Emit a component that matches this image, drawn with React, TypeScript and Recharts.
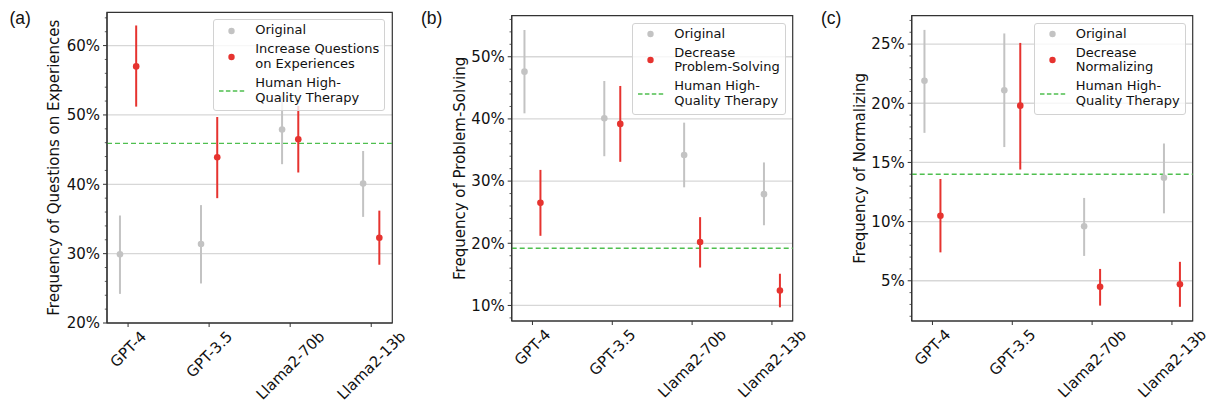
import {
  ComposedChart,
  Scatter,
  ErrorBar,
  XAxis,
  YAxis,
  CartesianGrid,
  ReferenceLine,
  ReferenceArea,
  Label,
} from 'recharts';

const FONT = '"DejaVu Sans", sans-serif';
const GRAY = '#c3c3c3';
const RED = '#e6332f';
const GREEN = '#4fbf4f';
const AXIS = '#333';
const GRID = '#d7d7d7';

const MODELS = ['GPT-4', 'GPT-3.5', 'Llama2-70b', 'Llama2-13b'];
const X_TICKS = [0, 1, 2, 3];

// (a) questions on experiences
const A_ORIG = [29.9, 31.4, 47.9, 40.1];
const A_ORIG_LO = [24.2, 25.7, 42.9, 35.3];
const A_ORIG_HI = [35.5, 37.0, 52.9, 44.8];
const A_MOD = [57.0, 43.9, 46.5, 32.3];
const A_MOD_LO = [51.2, 38.0, 41.7, 28.4];
const A_MOD_HI = [62.9, 49.7, 51.3, 36.2];
const A_HUMAN = 45.9;
const A_MAJOR = [20, 30, 40, 50, 60];
const A_MINOR = [22, 24, 26, 28, 32, 34, 36, 38, 42, 44, 46, 48, 52, 54, 56, 58, 62, 64];

// (b) problem-solving
const B_ORIG = [47.6, 40.1, 34.2, 27.9];
const B_ORIG_LO = [40.9, 34.0, 29.0, 22.9];
const B_ORIG_HI = [54.3, 46.1, 39.4, 33.0];
const B_MOD = [26.5, 39.2, 20.2, 12.4];
const B_MOD_LO = [21.2, 33.1, 16.1, 9.7];
const B_MOD_HI = [31.8, 45.3, 24.2, 15.1];
const B_HUMAN = 19.2;
const B_MAJOR = [10, 20, 30, 40, 50];
const B_MINOR = [8, 12, 14, 16, 18, 22, 24, 26, 28, 32, 34, 36, 38, 42, 44, 46, 48, 52, 54, 56];

// (c) normalizing
const C_ORIG = [21.9, 21.1, 9.6, 13.7];
const C_ORIG_LO = [17.5, 16.3, 7.1, 10.7];
const C_ORIG_HI = [26.2, 25.9, 12.0, 16.6];
const C_MOD = [10.5, 19.8, 4.5, 4.7];
const C_MOD_LO = [7.4, 14.4, 2.9, 2.8];
const C_MOD_HI = [13.6, 25.1, 6.0, 6.6];
const C_HUMAN = 14.0;
const C_MAJOR = [5, 10, 15, 20, 25];
const C_MINOR = [2, 3, 4, 6, 7, 8, 9, 11, 12, 13, 14, 16, 17, 18, 19, 21, 22, 23, 24, 26, 27];

const X_DOMAIN: [number, number] = [-0.26, 3.26];
const W = 412; // a bit wider than the 400px slot so the last rotated label is not clipped
const H = 407;
const Y_AXIS_W = 60;
const X_AXIS_H = 80;

let ctx: CanvasRenderingContext2D | null = null;
function textWidth(s: string) {
  if (!ctx) ctx = document.createElement('canvas').getContext('2d');
  if (!ctx) return s.length * 9;
  ctx.font = `15px ${FONT}`;
  return ctx.measureText(s).width;
}

function rows(vals: number[], lo: number[], hi: number[], shift: number) {
  return vals.map((v, i) => ({ x: i + shift, y: v, err: [v - lo[i], hi[i] - v] }));
}

function XTick(props: any) {
  const { x, payload, bottom } = props;
  const label = MODELS[payload.value];
  const d = 7 + (0.707 * (textWidth(label) + 11)) / 2;
  return (
    <g>
      <line x1={x} x2={x} y1={bottom} y2={bottom + 4} stroke={AXIS} strokeWidth={1} />
      <text
        transform={`translate(${x},${bottom + d}) rotate(-45)`}
        textAnchor="middle"
        dy="0.35em"
        fontFamily={FONT}
        fontSize={15}
        fill="#111"
      >
        {label}
      </text>
    </g>
  );
}

function YTick(props: any) {
  const { y, payload, plotLeft, major } = props;
  const v = payload.value;
  const isMajor = major.includes(v);
  return (
    <g>
      <line
        x1={plotLeft - (isMajor ? 4 : 2.2)}
        x2={plotLeft}
        y1={y}
        y2={y}
        stroke={AXIS}
        strokeWidth={isMajor ? 1 : 0.8}
      />
      {isMajor && (
        <text x={plotLeft - 7} y={y} dy="0.35em" textAnchor="end" fontFamily={FONT} fontSize={15} fill="#111">
          {`${v}%`}
        </text>
      )}
    </g>
  );
}

function Dot(color: string) {
  return (p: any) => <circle cx={p.cx} cy={p.cy} r={3.3} fill={color} />;
}

function LegendBox({ modLabel }: { modLabel: string[] }) {
  const row = (marker: 'gray' | 'red' | 'dash', lines: string[], first = false) => (
    <div style={{ display: 'flex', alignItems: 'center', marginTop: first ? 0 : 4.3 }}>
      <svg width={41} height={10} style={{ flex: 'none' }}>
        {marker === 'dash' ? (
          <line x1={5} x2={31} y1={5} y2={5} stroke={GREEN} strokeWidth={1.3} strokeDasharray="4.5 2.4" />
        ) : (
          <circle cx={17.5} cy={5} r={3.2} fill={marker === 'gray' ? GRAY : RED} />
        )}
      </svg>
      <div>
        {lines.map((l) => (
          <div key={l} style={{ whiteSpace: 'nowrap' }}>
            {l}
          </div>
        ))}
      </div>
    </div>
  );
  return (
    <div
      style={{
        background: 'rgba(255,255,255,0.8)',
        border: '1px solid #d2d2d2',
        borderRadius: 3,
        padding: '3px 5px 5px 0',
        fontFamily: FONT,
        fontSize: 13,
        lineHeight: '14.7px',
        color: '#111',
      }}
    >
      {row('gray', ['Original'], true)}
      {row('red', modLabel)}
      {row('dash', ['Human High-', 'Quality Therapy'])}
    </div>
  );
}

interface PanelProps {
  left: number;
  letter: string;
  letterX: number;
  yLabel: string;
  yLabelX: number;
  modLabel: string[];
  plot: { top: number; right: number; bottom: number; left: number };
  domain: [number, number];
  major: number[];
  minor: number[];
  orig: ReturnType<typeof rows>;
  mod: ReturnType<typeof rows>;
  human: number;
}

function Panel(p: PanelProps) {
  const { plot } = p;
  const ticks = [...p.major, ...p.minor].sort((a, b) => a - b);
  const midY = (plot.top + plot.bottom) / 2;
  return (
    <div style={{ position: 'absolute', left: p.left, top: 0, width: W, height: H }}>
      <ComposedChart
        width={W}
        height={H}
        margin={{
          top: plot.top,
          right: W - plot.right,
          bottom: H - plot.bottom - X_AXIS_H,
          left: plot.left - Y_AXIS_W,
        }}
      >
        <CartesianGrid vertical={false} horizontalValues={p.major} stroke={GRID} strokeWidth={1.3} />
        <XAxis
          type="number"
          dataKey="x"
          domain={X_DOMAIN}
          allowDataOverflow
          ticks={X_TICKS}
          interval={0}
          height={X_AXIS_H}
          tickLine={false}
          axisLine={{ stroke: AXIS, strokeWidth: 1.2 }}
          tick={<XTick bottom={plot.bottom} />}
        />
        <YAxis
          type="number"
          dataKey="y"
          domain={p.domain}
          allowDataOverflow
          ticks={ticks}
          interval={0}
          width={Y_AXIS_W}
          tickLine={false}
          axisLine={{ stroke: AXIS, strokeWidth: 1.2 }}
          tick={<YTick plotLeft={plot.left} major={p.major} />}
        >
          <Label
            content={() => (
              <text
                transform={`translate(${p.yLabelX},${midY}) rotate(-90)`}
                textAnchor="middle"
                dy="0.35em"
                fontFamily={FONT}
                fontSize={15}
                fill="#111"
              >
                {p.yLabel}
              </text>
            )}
          />
        </YAxis>
        <ReferenceLine y={p.human} stroke={GREEN} strokeWidth={1.3} strokeDasharray="5 3" />
        <Scatter data={p.orig} fill={GRAY} shape={Dot(GRAY)} isAnimationActive={false}>
          <ErrorBar dataKey="err" direction="y" width={0} stroke={GRAY} strokeWidth={2} />
        </Scatter>
        <Scatter data={p.mod} fill={RED} shape={Dot(RED)} isAnimationActive={false}>
          <ErrorBar dataKey="err" direction="y" width={0} stroke={RED} strokeWidth={2} />
        </Scatter>
        <ReferenceArea
          x1={X_DOMAIN[0]}
          x2={X_DOMAIN[1]}
          y1={p.domain[0]}
          y2={p.domain[1]}
          fill="none"
          stroke={AXIS}
          strokeWidth={1.2}
          ifOverflow="visible"
        />
      </ComposedChart>
      <div style={{ position: 'absolute', top: plot.top + 7, right: W - plot.right + 7 }}>
        <LegendBox modLabel={p.modLabel} />
      </div>
      <div
        style={{
          position: 'absolute',
          left: p.letterX,
          top: 10,
          fontFamily: '"Liberation Sans", Arial, sans-serif',
          fontSize: 17.5,
          lineHeight: '17.5px',
          color: '#111',
        }}
      >
        {p.letter}
      </div>
    </div>
  );
}

export default function App() {
  return (
    <div style={{ position: 'absolute', left: 0, top: 0, width: 1212, height: 407, background: '#fff', overflow: 'hidden' }}>
      <Panel
        left={0}
        letter="(a)"
        letterX={9.5}
        yLabel="Frequency of Questions on Experiences"
        yLabelX={53.5}
        modLabel={['Increase Questions', 'on Experiences']}
        plot={{ top: 12.3, right: 392.3, bottom: 323, left: 107 }}
        domain={[20, 64.8]}
        major={A_MAJOR}
        minor={A_MINOR}
        orig={rows(A_ORIG, A_ORIG_LO, A_ORIG_HI, -0.1)}
        mod={rows(A_MOD, A_MOD_LO, A_MOD_HI, 0.1)}
        human={A_HUMAN}
      />
      <Panel
        left={400}
        letter="(b)"
        letterX={21}
        yLabel="Frequency of Problem-Solving"
        yLabelX={60}
        modLabel={['Decrease', 'Problem-Solving']}
        plot={{ top: 15.7, right: 392.7, bottom: 321, left: 111.7 }}
        domain={[7.5, 56.6]}
        major={B_MAJOR}
        minor={B_MINOR}
        orig={rows(B_ORIG, B_ORIG_LO, B_ORIG_HI, -0.1)}
        mod={rows(B_MOD, B_MOD_LO, B_MOD_HI, 0.1)}
        human={B_HUMAN}
      />
      <Panel
        left={800}
        letter="(c)"
        letterX={21}
        yLabel="Frequency of Normalizing"
        yLabelX={60}
        modLabel={['Decrease', 'Normalizing']}
        plot={{ top: 15.7, right: 392.7, bottom: 321, left: 111.7 }}
        domain={[1.6, 27.4]}
        major={C_MAJOR}
        minor={C_MINOR}
        orig={rows(C_ORIG, C_ORIG_LO, C_ORIG_HI, -0.1)}
        mod={rows(C_MOD, C_MOD_LO, C_MOD_HI, 0.1)}
        human={C_HUMAN}
      />
    </div>
  );
}
